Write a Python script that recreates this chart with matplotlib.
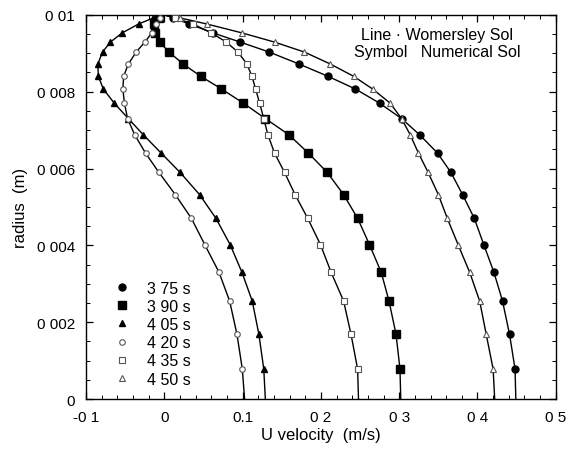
import matplotlib

matplotlib.use("Agg")
import matplotlib.pyplot as plt
from matplotlib.lines import Line2D
from matplotlib.ticker import MultipleLocator, FixedLocator

plt.rcParams["font.family"] = ["Liberation Sans", "DejaVu Sans"]

# radial positions of the numerical grid points (m)
radius = [0.00078, 0.00168, 0.00255, 0.0033, 0.00402, 0.0047, 0.00532, 0.0059,
          0.0064, 0.00688, 0.0073, 0.0077, 0.00807, 0.0084, 0.00872, 0.00903,
          0.00929, 0.00953, 0.00976, 0.00992]

times = ["3 75 s", "3 90 s", "4 05 s", "4 20 s", "4 35 s", "4 50 s"]

# centreline velocity (r = 0) of each profile
u_center = [0.449, 0.302, 0.129, 0.1025, 0.248, 0.422]

u_375 = [0.448, 0.441, 0.432, 0.421, 0.408, 0.396, 0.381, 0.366, 0.349, 0.326,
         0.303, 0.275, 0.244, 0.209, 0.172, 0.134, 0.097, 0.062, 0.032, 0.011]
u_390 = [0.301, 0.296, 0.287, 0.277, 0.262, 0.247, 0.229, 0.208, 0.184, 0.159,
         0.129, 0.101, 0.073, 0.0465, 0.024, 0.006, -0.006, -0.012, -0.013, -0.007]
u_405 = [0.127, 0.1208, 0.1123, 0.0991, 0.084, 0.066, 0.045, 0.020, -0.004, -0.027,
         -0.046, -0.064, -0.078, -0.0843, -0.0850, -0.079, -0.069, -0.0538, -0.033, -0.014]
u_420 = [0.0996, 0.0928, 0.0834, 0.0698, 0.0516, 0.0346, 0.014, -0.007, -0.024, -0.038,
         -0.047, -0.051, -0.053, -0.052, -0.046, -0.036, -0.025, -0.016, -0.011, -0.005]
u_435 = [0.2469, 0.2385, 0.229, 0.213, 0.1994, 0.1832, 0.167, 0.1535, 0.1408, 0.1322,
         0.127, 0.1217, 0.1166, 0.1119, 0.1055, 0.094, 0.0792, 0.06, 0.0367, 0.014]
u_450 = [0.420, 0.4112, 0.4028, 0.39, 0.3752, 0.3615, 0.35, 0.3369, 0.3246, 0.314,
         0.303, 0.2885, 0.266, 0.2418, 0.212, 0.179, 0.1408, 0.0991, 0.0545, 0.02]

profiles = [u_375, u_390, u_405, u_420, u_435, u_450]

x_ticks = [-0.1, 0.0, 0.1, 0.2, 0.3, 0.4, 0.5]
x_tick_labels = ["-0 1", "0", "0.1", "0 2", "0 3", "0 4", "0 5"]
y_ticks = [0.0, 0.002, 0.004, 0.006, 0.008, 0.01]
y_tick_labels = ["0", "0 002", "0 004", "0 006", "0 008", "0 01"]

styles = [
    dict(marker="o", ms=5, mfc="black", mec="black"),
    dict(marker="s", ms=5.5, mfc="black", mec="black"),
    dict(marker="^", ms=4.5, mfc="black", mec="black"),
    dict(marker="o", ms=4, mfc="white", mec="#555555", mew=0.8),
    dict(marker="s", ms=4, mfc="white", mec="#555555", mew=0.8),
    dict(marker="^", ms=4, mfc="white", mec="#555555", mew=0.8),
]

fig = plt.figure(figsize=(5.7, 4.52), dpi=100)
ax = fig.add_axes([0.151, 0.115, 0.824, 0.85])

for u0, prof, st in zip(u_center, profiles, styles):
    r_line = [0.0] + radius + [0.01]
    u_line = [u0] + prof + [0.0]
    ax.plot(u_line, r_line, color="black", lw=1.0, zorder=2)
    ax.plot(prof, radius, linestyle="none", zorder=3, **st)

ax.set_xlim(-0.1, 0.5)
ax.set_ylim(0, 0.01)
ax.xaxis.set_major_locator(FixedLocator(x_ticks))
ax.set_xticklabels(x_tick_labels)
ax.yaxis.set_major_locator(FixedLocator(y_ticks))
ax.set_yticklabels(y_tick_labels)
ax.xaxis.set_minor_locator(MultipleLocator(0.02))
ax.yaxis.set_minor_locator(MultipleLocator(0.0005))
ax.tick_params(which="both", direction="in", top=True, right=True, labelsize=11)
ax.tick_params(which="major", length=5, width=0.9, pad=8)
ax.tick_params(which="minor", length=3, width=0.7)
for sp in ax.spines.values():
    sp.set_linewidth(1.0)

ax.set_xlabel("U velocity  (m/s)", fontsize=12, labelpad=2)
ax.set_ylabel("radius  (m)", fontsize=12, labelpad=6)

ax.text(0.748, 0.968, "Line · Womersley Sol\nSymbol   Numerical Sol",
        transform=ax.transAxes, ha="center", va="top", fontsize=11.5,
        linespacing=1.15)

handles = [Line2D([], [], linestyle="none", **st) for st in styles]
ax.legend(handles, times, loc="upper left", bbox_to_anchor=(0.045, 0.325),
          frameon=False, handlelength=1.0, handletextpad=1.1,
          labelspacing=0.2, fontsize=11.5, borderaxespad=0)

fig.savefig("out.png", dpi=100)
